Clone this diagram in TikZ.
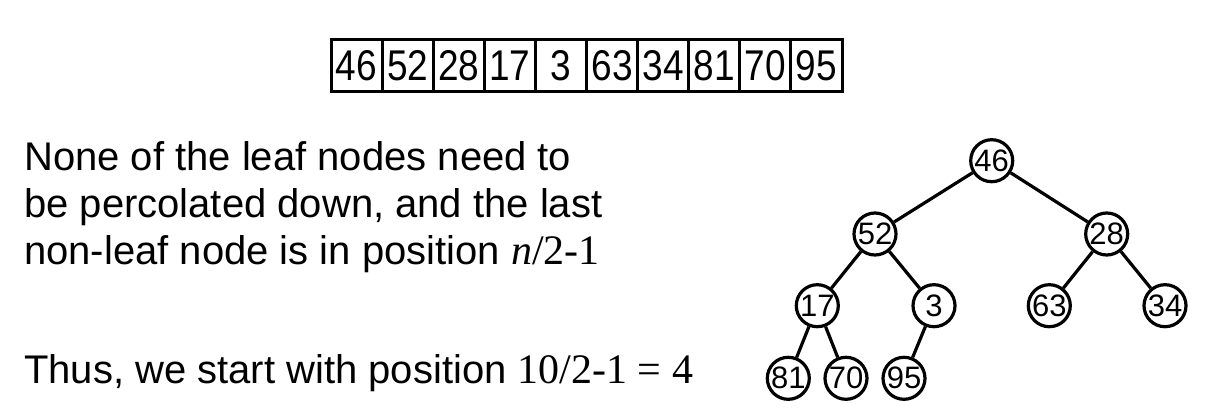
\documentclass[tikz,border=0pt]{standalone}
\usepackage{fontspec}
\setmainfont{Liberation Sans}
\newfontfamily\tnr{Liberation Serif}
\newfontfamily\narrowsans{Liberation Sans}[FakeStretch=0.86]
\begin{document}
\begin{tikzpicture}[x=1pt,y=-1pt,
  cell/.style={draw, line width=3pt, minimum width=51.1pt, minimum height=52pt, inner sep=0pt, outer sep=0pt, font=\narrowsans\fontsize{43}{44}\selectfont},
  hnode/.style={circle, draw, line width=3.2pt, minimum size=42pt, inner sep=0pt, font=\fontsize{31}{32}\selectfont},
  edge/.style={line width=3.2pt},
  txt/.style={anchor=base west, inner sep=0pt, font=\fontsize{40}{48}\selectfont}]
\useasboundingbox (0,0) rectangle (1231,417);
% array
\foreach \v [count=\i from 0] in {46,52,28,17,3,63,34,81,70,95}
  \node[cell] (c\i) at ({331+51.1*(\i+0.5)},66) {\v};
% text
\node[txt] (t1) at (24,170) {None of the leaf nodes need to};
\node[txt] (t2) at (24,217) {be percolated down, and the last};
\node[txt] (t3) at (24,264) {non-leaf node is in position {\tnr\fontsize{42}{48}\selectfont\itshape n}{\tnr\fontsize{42}{48}\selectfont /2-1}};
\node[txt] (t4) at (24,383) {Thus, we start with position {\tnr\fontsize{42}{48}\selectfont 10/2-1 = 4}};
% tree
\node[hnode] (n46) at (991.7,160.7) {46};
\node[hnode] (n52) at (875,234) {52};
\node[hnode] (n28) at (1106.7,234) {28};
\node[hnode] (n17) at (817.3,305.7) {17};
\node[hnode] (n3) at (934,305.7) {3};
\node[hnode] (n63) at (1049.3,305.7) {63};
\node[hnode] (n34) at (1165,305.7) {34};
\node[hnode] (n81) at (788.3,378.3) {81};
\node[hnode] (n70) at (846,378.3) {70};
\node[hnode] (n95) at (904,378.3) {95};
\draw[edge] (n46) -- (n52);
\draw[edge] (n46) -- (n28);
\draw[edge] (n52) -- (n17);
\draw[edge] (n52) -- (n3);
\draw[edge] (n28) -- (n63);
\draw[edge] (n28) -- (n34);
\draw[edge] (n17) -- (n81);
\draw[edge] (n17) -- (n70);
\draw[edge] (n3) -- (n95);
\end{tikzpicture}
\end{document}
